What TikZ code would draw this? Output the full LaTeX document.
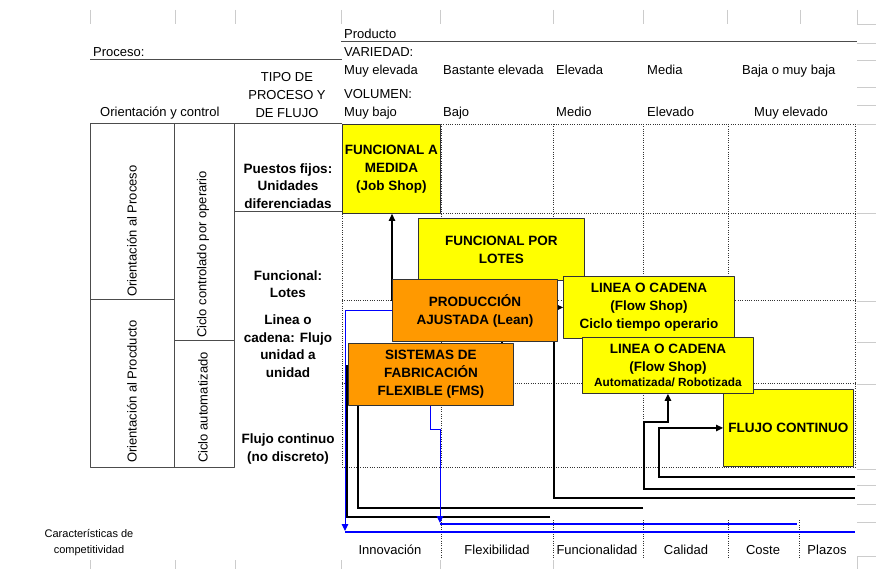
\documentclass[tikz,border=0pt]{standalone}
\usepackage{fontspec}
\setmainfont{Liberation Sans}
\usetikzlibrary{arrows.meta}
\pgfdeclarelayer{fondo}
\pgfsetlayers{fondo,main}
\begin{document}
\begin{tikzpicture}[x=1pt,y=-1pt,line join=round]
	\definecolor{amarillo}{rgb}{1, 1, 0}
	\definecolor{naranja}{rgb}{1, 0.6, 0}
	\definecolor{azul}{rgb}{0, 0, 1}
	\tikzset{
		texto/.style={anchor=base west,inner sep=0pt,font=\fontsize{13}{16}\selectfont},
		pie/.style={anchor=base,inner sep=0pt,font=\fontsize{13}{16}\selectfont},
		vertical/.style={rotate=90,anchor=west,inner sep=0pt,font=\fontsize{13}{16}\selectfont},
		tipo/.style={align=center,inner sep=0pt,font=\bfseries\fontsize{13.5}{17.5}\selectfont},
		caja/.style={draw=black!80,line width=.9pt,anchor=north west,align=center,inner sep=0pt,font=\bfseries\fontsize{13.5}{18}\selectfont},
		amarilla/.style={caja,fill=amarillo},
		anaranjada/.style={caja,fill=naranja},
		rejilla/.style={black!80,line width=.75pt,dash pattern=on 1pt off 1.3pt},
		tabla/.style={black!70,line width=1pt},
		celda/.style={black!20,line width=.8pt},
		flecha/.style={-{Triangle[length=7pt,width=6.5pt]}},
		negra/.style={black,line width=1.2pt},
		linea azul/.style={azul,line width=1pt},
		banda/.style={azul,line width=2.5pt}
	}
	\useasboundingbox (0,0) rectangle (876,569);
	
	\begin{pgfonlayer}{fondo}
		% rejilla de la hoja
		\foreach \x in {90,175,235,341,440,553,643,727,800}
			\draw[celda] (\x,10) -- (\x,24);
		\draw[celda] (857,10) |- (876,24);
		\foreach \x in {90,175,235,341,440,553}
			\draw[celda] (\x,560) -- (\x,569);
		\draw[celda] (876,556) -| (857,569);
		\foreach \y in {43,60,87,105,124,213,301,342,384,469,485,504,522}
			\draw[celda] (857,\y) -- (876,\y);
		% matriz punteada
		\foreach \y in {124,213,300,383,467}
			\draw[rejilla] (342,\y) -- (855,\y);
		\foreach \x in {342,441,553,643,728,855}
			\draw[rejilla] (\x,124) -- (\x,467);
		\foreach \x in {441,553,643,728,799}
			\draw[rejilla] (\x,520) -- (\x,557);
	\end{pgfonlayer}
	
	% cabecera
	\draw[tabla] (90,60) -- (342,60);
	\draw[tabla] (341,42) -- (857,42);
	\node[texto] (producto) at (344,39) {Producto};
	\node[texto] (proceso) at (93,57) {Proceso:};
	\node[texto] (variedad) at (344,57) {VARIEDAD:};
	\foreach \x/\t [count=\i] in {344/Muy elevada,443/Bastante elevada,556/Elevada,647/Media,742/Baja o muy baja}
		\node[texto] (var\i) at (\x,75) {\t};
	\node[texto] (volumen) at (344,99) {VOLUMEN:};
	\foreach \x/\t [count=\i] in {344/Muy bajo,443/Bajo,556/Medio,647/Elevado,754/Muy elevado}
		\node[texto] (vol\i) at (\x,117) {\t};
	\node[texto] (orientacion) at (100,117) {Orientación y control};
	\node[align=center,inner sep=0pt,font=\fontsize{13}{18}\selectfont] (tipo) at (287,95) {TIPO DE\\PROCESO Y\\DE FLUJO};
	
	% tabla izquierda
	\draw[tabla] (342,124) -- (90,124) -- (90,467) -- (234,467) -- (234,124);
	\draw[tabla] (174,124) -- (174,467);
	\draw[tabla] (90,300) -- (174,300);
	\draw[tabla] (174,341) -- (234,341);
	\draw[tabla] (234,212) -- (342,212);
	\node[vertical] (oproceso) at (132,297) {Orientación al Proceso};
	\node[vertical] (oproducto) at (132,463) {Orientación al Procducto};
	\node[vertical] (operario) at (203,338) {Ciclo controlado por operario};
	\node[vertical] (automatizado) at (203,463) {Ciclo automatizado};
	\node[tipo] (fijos) at (288,186) {Puestos fijos:\\Unidades\\diferenciadas};
	\node[tipo] (funcional) at (288,284) {Funcional:\\Lotes};
	\node[tipo] (cadena) at (288,346) {Linea o\\cadena: Flujo\\unidad a\\unidad};
	\node[tipo] (flujo) at (288,449) {Flujo continuo\\(no discreto)};
	
	% cajas
	\node[amarilla,minimum width=98pt,minimum height=89pt] (medida) at (342,124) {FUNCIONAL A\\MEDIDA\\(Job Shop)};
	\node[amarilla,minimum width=166pt,minimum height=62pt] (lotes) at (418,218) {FUNCIONAL POR\\LOTES};
	\node[amarilla,minimum width=171pt,minimum height=62pt] (ciclo) at (563,276) {LINEA O CADENA\\(Flow Shop)\\Ciclo tiempo operario};
	\node[amarilla,minimum width=130pt,minimum height=77pt] (continuo) at (723,389) {FLUJO CONTINUO};
	\node[amarilla,minimum width=171pt,minimum height=56pt] (robot) at (582,337) {LINEA O CADENA\\(Flow Shop)\\[-3pt]{\fontsize{11.8}{14}\selectfont Automatizada/ Robotizada}};
	\node[anaranjada,minimum width=165pt,minimum height=62pt] (lean) at (392,279) {PRODUCCIÓN\\AJUSTADA (Lean)};
	\node[anaranjada,minimum width=165pt,minimum height=62pt] (fms) at (348,343) {SISTEMAS DE\\FABRICACIÓN\\FLEXIBLE (FMS)};
	
	% pie
	\node[align=center,inner sep=0pt,font=\fontsize{11}{16}\selectfont] (caract) at (89,543) {Características de\\competitividad};
	\foreach \x/\t [count=\i] in {390/Innovación,497/Flexibilidad,597/Funcionalidad,686/Calidad,763/Coste,827/Plazos}
		\node[pie] (comp\i) at (\x,554) {\t};
	
	% conectores
	\begin{pgfonlayer}{fondo}
		\coordinate (d1) at (855,477);
		\coordinate (d2) at (855,489);
		\coordinate (d3) at (855,498);
		\coordinate (d4) at (643,508);
		\coordinate (d5) at (550,517);
		\coordinate (v1) at (358,380);
		\coordinate (v2) at (502,300);
		\coordinate (b1) at (345,531);
		\coordinate (b2) at (440,523);
		\draw[negra,flecha] (d1) -| ([xshift=-64pt]continuo.west) -- (continuo.west);
		\draw[negra,flecha] (d2) -| ([xshift=-24pt,yshift=-28pt]robot.south) -| (robot.south);
		\draw[negra,flecha] (d3) -| ([xshift=-9pt]ciclo.west) -- (ciclo.west);
		\draw[negra,flecha] (d4) -| (v1) -| (v2) -| (lean.north west) -- (medida.south -| lean.north west);
		\draw[negra] (d5) -| ([xshift=-1pt,yshift=9pt]fms.west) -- ([yshift=9pt]fms.west);
		\draw[linea azul,flecha] (lean.west) -| (b1);
		\draw[linea azul,flecha] (fms.south) -- ++(0,24) -| (b2);
		\draw[banda] (345,532) -- (855,532);
		\draw[banda] (440,524) -- (797,524);
	\end{pgfonlayer}
\end{tikzpicture}
\end{document}
